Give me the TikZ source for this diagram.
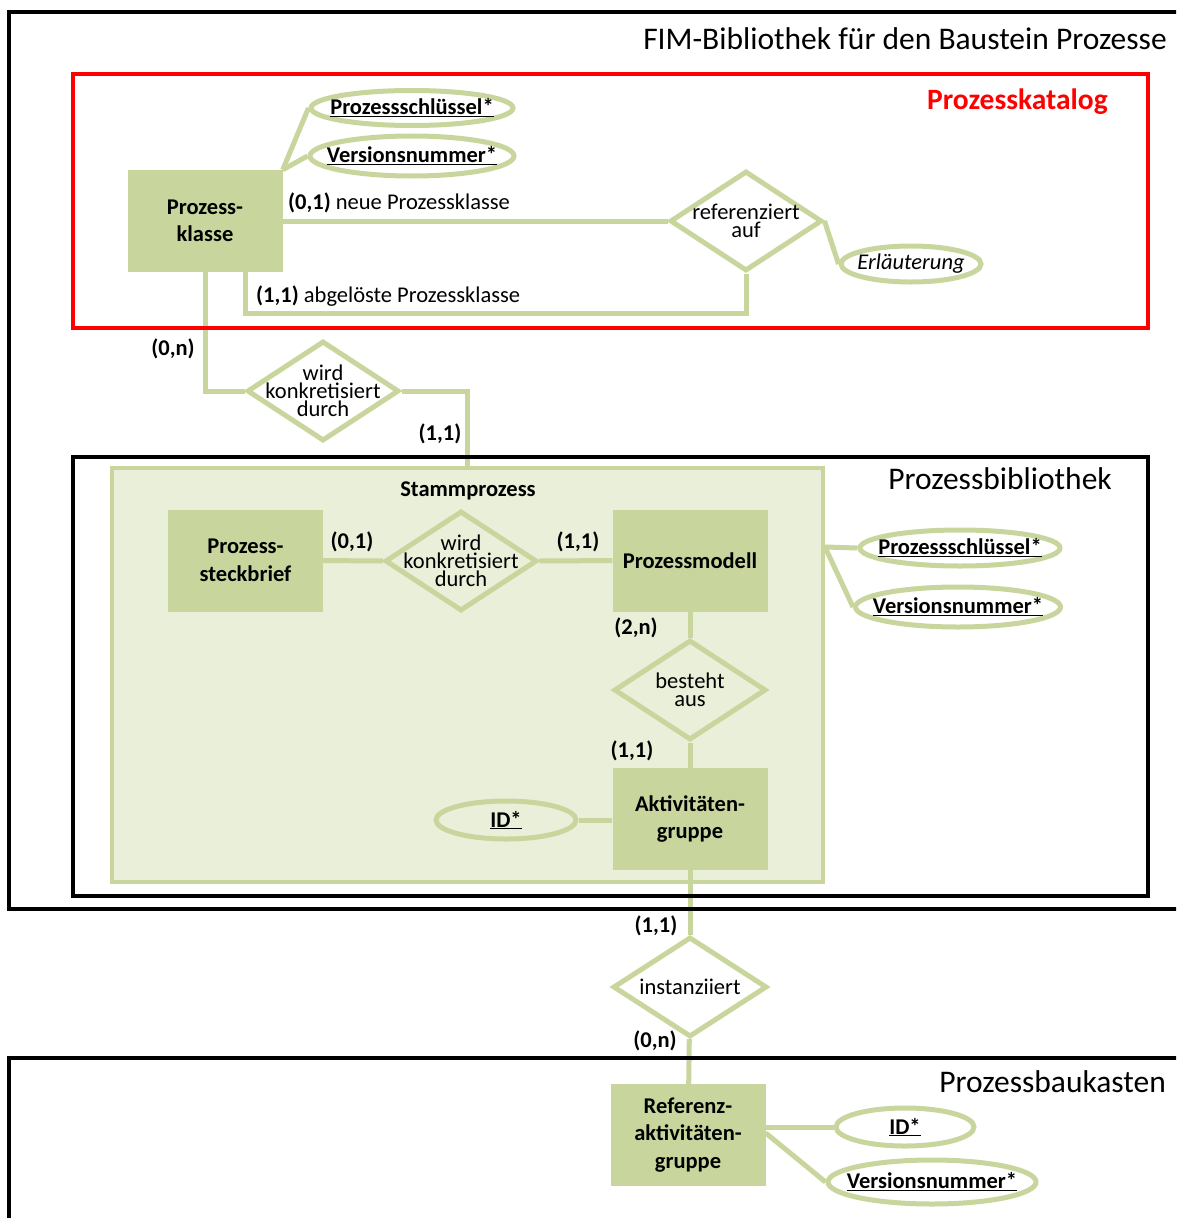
\documentclass[tikz,border=0pt]{standalone}
\usepackage{fontspec}
\setmainfont{Carlito}
\usetikzlibrary{shapes.geometric, calc}

\definecolor{ergreen}{RGB}{200,214,158}
\definecolor{stammfill}{RGB}{233,239,217}
\definecolor{katred}{RGB}{255,0,0}

\begin{document}
\begin{tikzpicture}[
    x=1pt, y=-1pt,
    font=\fontsize{22.5}{27}\selectfont,
    entity/.style={rectangle, fill=ergreen, minimum width=155pt, minimum height=102pt, inner sep=0, align=center, font=\fontsize{22.5}{27.5}\selectfont\bfseries},
    rel/.style={diamond, draw=ergreen, line width=5pt, minimum width=152pt, minimum height=100pt, inner sep=0},
    rel text/.style={align=center, font=\fontsize{22.5}{18}\selectfont, inner sep=0},
    attr/.style={ellipse, draw=ergreen, line width=5pt, inner sep=0},
    attr text/.style={font=\fontsize{22.5}{27}\selectfont\bfseries, inner sep=0},
    leg/.style={draw=ergreen, line width=5pt},
    card/.style={font=\fontsize{22.5}{27}\selectfont\bfseries, inner sep=0},
    frame/.style={draw=black, line width=3.5pt},
    frame title/.style={anchor=east, font=\fontsize{31.5}{36}\selectfont, inner sep=0},
    stammbox/.style={rectangle, draw=ergreen, fill=stammfill, line width=4pt, minimum width=711pt, minimum height=414pt, inner sep=0}
]
    \useasboundingbox (0,0) rectangle (1176,1218);
    \fill[white] (0,0) rectangle (1176,1218);
    \clip (0,0) rectangle (1176,1218);

    % =========================================================
    % PART 1: PROZESSKATALOG
    % =========================================================
    \node[frame title] (fimtitle) at (1167,39) {FIM-Bibliothek für den Baustein Prozesse};
    \node[frame title, font=\fontsize{29.5}{34}\selectfont\bfseries, text=katred] (kattitle) at (1108,102) {Prozesskatalog};

    % Entity and relationship
    \node[entity] (pk) at (205,221) {Prozess-\\klasse};
    \node[rel, label={[rel text]center:referenziert\\auf}] (ref) at (746,221) {};

    % Attributes
    \node[attr, minimum width=202pt, minimum height=35pt, label={[attr text]center:\underline{Prozessschlüssel*}}] (psk1) at (412,108) {};
    \node[attr, minimum width=204pt, minimum height=40pt, label={[attr text]center:\underline{Versionsnummer*}}] (vn1) at (412,156) {};
    \node[attr, minimum width=140pt, minimum height=36pt, label={[attr text, font=\fontsize{22.5}{27}\selectfont\itshape]center:Erläuterung}] (erl) at (911,264) {};

    \draw[leg] (pk.north east) -- (psk1.west);
    \draw[leg] (pk.north east) -- (vn1.west);
    \draw[leg] (pk) -- (ref);
    \draw[leg] ([xshift=40pt]pk.south) |- ([yshift=-40pt]ref.south) -- (ref.south);
    \draw[leg] (ref.east) -- (erl.west);

    \node[inner sep=0, anchor=west] (neu) at (288,203) {\textbf{(0,1)} neue Prozessklasse};
    \node[inner sep=0, anchor=west] (alt) at (256,296) {\textbf{(1,1)} abgelöste Prozessklasse};

    % Link down to the Stammprozess
    \node[rel, label={[rel text]center:wird\\konkretisiert\\durch}] (wkd1) at (323,391) {};
    \node[card] (c0n) at (173,349) {(0,n)};
    \node[card] (c11a) at (440,434) {(1,1)};

    % =========================================================
    % PART 2: PROZESSBIBLIOTHEK
    % =========================================================
    \node[frame title] (bibtitle) at (1112,479) {Prozessbibliothek};

    \node[stammbox] (stamm) at (467.5,675) {};
    \node[card] (stammtitle) at (468,491) {Stammprozess};

    \node[entity] (steck) at (245.5,560.5) {Prozess-\\steckbrief};
    \node[rel, label={[rel text]center:wird\\konkretisiert\\durch}] (wkd2) at (461,561) {};
    \node[entity] (pm) at (690,560.5) {Prozessmodell};
    \node[rel, label={[rel text]center:besteht\\aus}] (ba) at (690,690) {};
    \node[entity] (ag) at (690,819) {Aktivitäten-\\gruppe};
    \node[attr, minimum width=140pt, minimum height=38pt, label={[attr text]center:\underline{ID*}}] (id1) at (506,820) {};

    \node[attr, minimum width=200pt, minimum height=36pt, label={[attr text]center:\underline{Prozessschlüssel*}}] (psk2) at (960,548) {};
    \node[attr, minimum width=205pt, minimum height=40pt, label={[attr text]center:\underline{Versionsnummer*}}] (vn2) at (958,607) {};
    \coordinate (pmattr) at (825,547);

    \draw[leg] (pk.south) |- (wkd1.west);
    \draw[leg] (wkd1.east) -| (stamm.north);
    \draw[leg] (steck) -- (wkd2);
    \draw[leg] (wkd2) -- (pm);
    \draw[leg] (pm) -- (ba);
    \draw[leg] (ba) -- (ag);
    \draw[leg] (id1.east) -- (ag.west |- id1.east);
    \draw[leg] (pmattr) -- (psk2.west);
    \draw[leg] (pmattr) -- (vn2.west);

    \node[card] (c01) at (352,542) {(0,1)};
    \node[card] (c11b) at (578,542) {(1,1)};
    \node[card] (c2n) at (636,628) {(2,n)};
    \node[card] (c11c) at (632,751) {(1,1)};

    % =========================================================
    % PART 3: PROZESSBAUKASTEN
    % =========================================================
    \node[frame title] (baktitle) at (1166,1082) {Prozessbaukasten};

    \node[rel, minimum width=154pt, label={[rel text]center:instanziiert}] (inst) at (690,987) {};
    \node[entity] (rag) at (688,1135) {Referenz-\\aktivitäten-\\gruppe};
    \node[attr, minimum width=138pt, minimum height=38pt, label={[attr text]center:\underline{ID*}}] (id2) at (905,1127) {};
    \node[attr, minimum width=208pt, minimum height=44pt, label={[attr text]center:\underline{Versionsnummer*}}] (vn3) at (932,1182) {};

    \draw[leg] (ag) -- (inst);
    \draw[leg] (inst) -- (rag);
    \draw[leg] (rag.east |- id2.west) -- (id2.west);
    \draw[leg] ([yshift=2pt]rag.east) -- (vn3.west);

    \node[card] (c11d) at (656,926) {(1,1)};
    \node[card] (c0nb) at (655,1041) {(0,n)};

    % Frames on top
    \draw[frame] (9,12) rectangle (1190,909);
    \draw[frame, draw=katred, line width=4pt] (73,74) rectangle (1148,328);
    \draw[frame] (73,457) rectangle (1148,896);
    \draw[frame] (9,1058) rectangle (1190,1240);

\end{tikzpicture}
\end{document}
